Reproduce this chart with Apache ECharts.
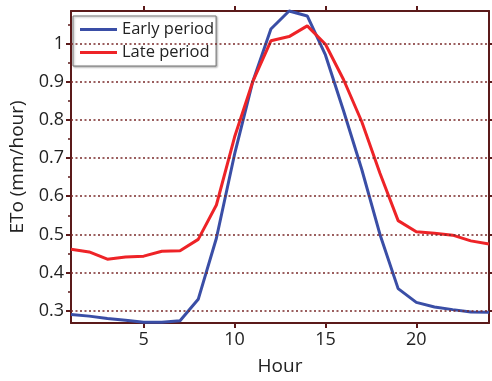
<!DOCTYPE html>
<html><head><meta charset="utf-8">
<script src="https://cdn.jsdelivr.net/npm/echarts@6/dist/echarts.min.js"></script>
<style>html,body{margin:0;padding:0;background:#fff}#c{width:492px;height:381px}</style>
</head><body><div id="c"></div>
<script>
const hours = [1,2,3,4,5,6,7,8,9,10,11,12,13,14,15,16,17,18,19,20,21,22,23,24];
const earlyPeriod = [0.290,0.286,0.280,0.275,0.270,0.270,0.274,0.330,0.490,0.710,0.900,1.038,1.085,1.072,0.970,0.823,0.670,0.500,0.358,0.322,0.310,0.303,0.297,0.296];
const latePeriod = [0.461,0.454,0.435,0.441,0.443,0.456,0.457,0.487,0.577,0.755,0.900,1.007,1.018,1.046,0.998,0.905,0.795,0.660,0.536,0.507,0.503,0.498,0.483,0.475];
const xTicks = [5,10,15,20];
const yTicks = [0.3,0.4,0.5,0.6,0.7,0.8,0.9,1.0];
const yMinorTicks = [0.35,0.45,0.55,0.65,0.75,0.85,0.95,1.05];
const seriesNames = ['Early period','Late period'];
const xName = 'Hour';
const yName = 'ETo (mm/hour)';

const AX = '#5b1a1a';
const FONT = 'Open Sans';
const chart = echarts.init(document.getElementById('c'), null, {renderer:'canvas'});
const pairs = arr => hours.map((h,i)=>[h,arr[i]]);
const xMin = 1, xMax = 24, yMin = 0.268, yMax = 1.085;
const axLine = {show:true, lineStyle:{color:AX, width:2}};
chart.setOption({
  animation:false,
  backgroundColor:'#fff',
  grid:{left:67, right:3, top:11, bottom:46, containLabel:false},
  legend:{
    data:seriesNames, orient:'vertical', left:73, top:16,
    padding:[5,2,5,7], itemGap:6, itemWidth:37, itemHeight:3, icon:'rect',
    borderColor:'#777', borderWidth:1, backgroundColor:'#fff',
    textStyle:{fontFamily:FONT, fontSize:16.5, color:'#222', padding:[0,0,0,0]},
    shadowColor:'rgba(0,0,0,0.3)', shadowBlur:2, shadowOffsetX:1, shadowOffsetY:1
  },
  xAxis:[
    {type:'value', min:xMin, max:xMax, position:'bottom',
     name:xName, nameLocation:'middle', nameGap:34,
     nameTextStyle:{fontFamily:FONT, fontSize:19, color:'#222'},
     axisLine:axLine,
     axisTick:{show:true, inside:false, length:5, customValues:xTicks, lineStyle:{color:AX, width:2}},
     axisLabel:{show:true, customValues:xTicks, margin:8, fontFamily:FONT, fontSize:18, color:'#222'},
     splitLine:{show:false}},
    {type:'value', min:xMin, max:xMax, position:'top',
     axisLine:axLine,
     axisTick:{show:true, inside:false, length:5, customValues:xTicks, lineStyle:{color:AX, width:2}},
     axisLabel:{show:false}, splitLine:{show:false}}
  ],
  yAxis:[
    {type:'value', min:yMin, max:yMax, position:'left',
     name:yName, nameLocation:'middle', nameGap:44,
     nameTextStyle:{fontFamily:FONT, fontSize:19, color:'#222'},
     axisLine:axLine,
     axisTick:{show:true, inside:false, length:5, customValues:yTicks, lineStyle:{color:AX, width:2}},
     axisLabel:{show:true, customValues:yTicks, margin:7, fontFamily:FONT, fontSize:18, color:'#222'},
     splitLine:{show:false}},
    {type:'value', min:yMin, max:yMax, position:'right',
     axisLine:axLine,
     axisTick:{show:true, inside:false, length:4, customValues:yTicks, lineStyle:{color:AX, width:2}},
     axisLabel:{show:false}, splitLine:{show:false}},
    {type:'value', min:yMin, max:yMax, position:'left',
     axisLine:{show:false},
     axisTick:{show:true, inside:false, length:3, customValues:yMinorTicks, lineStyle:{color:AX, width:1.5}},
     axisLabel:{show:false}, splitLine:{show:false}}
  ],
  series:[
    {type:'line', name:'grid', data:[], xAxisIndex:0, yAxisIndex:0, silent:true, z:1,
     markLine:{silent:true, symbol:['none','none'], label:{show:false},
       lineStyle:{color:'#7a2a2a', type:[2,2.5], width:1.6},
       data:yTicks.map(v=>({yAxis:v}))}},
    {type:'line', name:seriesNames[0], data:pairs(earlyPeriod), xAxisIndex:0, yAxisIndex:0,
     showSymbol:false, symbol:'none', clip:false, z:3,
     lineStyle:{color:'#3a4ea6', width:3}, itemStyle:{color:'#3a4ea6'}},
    {type:'line', name:seriesNames[1], data:pairs(latePeriod), xAxisIndex:0, yAxisIndex:0,
     showSymbol:false, symbol:'none', clip:false, z:3,
     lineStyle:{color:'#ee2327', width:3}, itemStyle:{color:'#ee2327'}}
  ]
});
</script></body></html>
